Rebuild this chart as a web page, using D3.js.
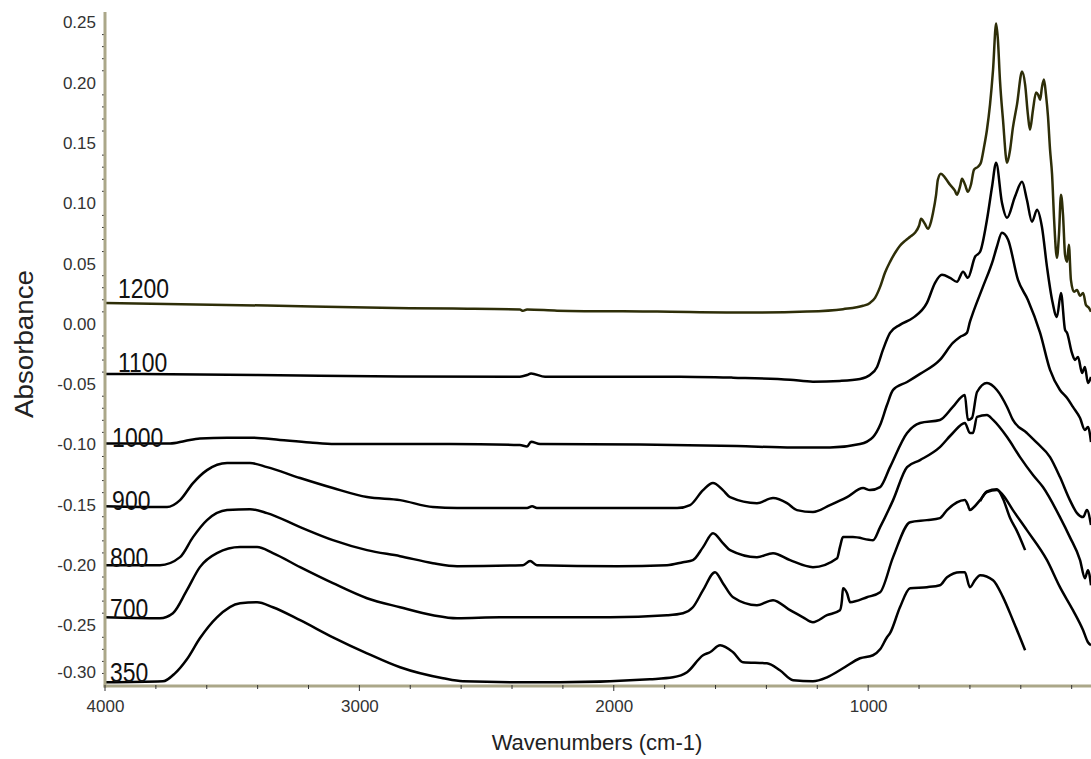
<!DOCTYPE html>
<html>
<head>
<meta charset="utf-8">
<script src="https://cdn.jsdelivr.net/npm/d3@7"></script>
<style>
  body { margin: 0; background: #fff; }
  svg { display: block; }
  text { font-family: "Liberation Sans", Arial, sans-serif; }
</style>
</head>
<body>
<svg id="chart" width="1091" height="759"></svg>
<script>
// FTIR spectra: [wavenumber (cm-1), absorbance], one array per calcination temperature
const s1200 = [[4000,0.0174],[3363,0.0152],[2970,0.0135],[2632,0.0127],[2369,0.0120],[2357,0.0108],[2341,0.0119],[2223,0.0110],[1830,0.0102],[1453,0.0094],[1240,0.0102],[1099,0.0122],[1020,0.0150],[993,0.0174],[973,0.0216],[953,0.0307],[934,0.0424],[914,0.0515],[894,0.0590],[875,0.0648],[855,0.0689],[835,0.0723],[816,0.0756],[800,0.0814],[792,0.0872],[777,0.0831],[765,0.0789],[753,0.0847],[745,0.0922],[733,0.1071],[726,0.1196],[714,0.1246],[698,0.1213],[678,0.1154],[659,0.1105],[651,0.1071],[639,0.1138],[631,0.1204],[619,0.1154],[608,0.1096],[596,0.1154],[584,0.1279],[568,0.1304],[557,0.1337],[545,0.1462],[533,0.1611],[521,0.1819],[509,0.2110],[497,0.2492],[490,0.2359],[482,0.2027],[470,0.1694],[454,0.1337],[442,0.1445],[431,0.1628],[415,0.1819],[395,0.2093],[383,0.1985],[372,0.1736],[364,0.1611],[352,0.1777],[340,0.1919],[332,0.1902],[324,0.1860],[317,0.1960],[309,0.2027],[301,0.1902],[293,0.1719],[285,0.1445],[277,0.1238],[269,0.0864],[258,0.0548],[250,0.0739],[242,0.1071],[234,0.0905],[226,0.0573],[218,0.0515],[211,0.0656],[203,0.0365],[191,0.0266],[179,0.0282],[167,0.0233],[155,0.0257],[144,0.0158],[132,0.0133],[124,0.0100]];

const s1100 = [[4000,-0.0415],[3627,-0.0419],[3233,-0.0428],[2840,-0.0436],[2369,-0.0438],[2341,-0.0424],[2325,-0.0411],[2270,-0.0438],[1740,-0.0438],[1531,-0.0446],[1307,-0.0463],[1217,-0.0479],[1111,-0.0473],[1032,-0.0457],[993,-0.0424],[965,-0.0357],[942,-0.0216],[914,-0.0075],[875,-0.0008],[824,0.0050],[769,0.0174],[737,0.0341],[710,0.0407],[678,0.0382],[651,0.0349],[627,0.0432],[608,0.0382],[580,0.0556],[560,0.0598],[533,0.0864],[513,0.1138],[497,0.1337],[474,0.1005],[454,0.0880],[423,0.1055],[395,0.1179],[376,0.1030],[356,0.0847],[336,0.0947],[317,0.0806],[297,0.0473],[277,0.0199],[258,0.0058],[242,0.0257],[226,-0.0050],[218,-0.0075],[199,-0.0241],[187,-0.0299],[175,-0.0274],[159,-0.0407],[148,-0.0357],[136,-0.0490],[124,-0.0440]];

const s1000 = [[4000,-0.0993],[3744,-0.0993],[3686,-0.0972],[3627,-0.0951],[3520,-0.0944],[3418,-0.0944],[3312,-0.0963],[3194,-0.0984],[3096,-0.0997],[2644,-0.0997],[2369,-0.1005],[2341,-0.1017],[2325,-0.0977],[2290,-0.0997],[1897,-0.1001],[1516,-0.1013],[1295,-0.1026],[1150,-0.1026],[1032,-0.0997],[981,-0.0939],[953,-0.0839],[926,-0.0673],[902,-0.0548],[847,-0.0482],[796,-0.0415],[718,-0.0299],[667,-0.0158],[639,-0.0108],[612,-0.0075],[600,0.0017],[588,0.0091],[549,0.0307],[509,0.0532],[494,0.0640],[474,0.0756],[450,0.0698],[411,0.0365],[372,0.0199],[324,-0.0075],[285,-0.0382],[246,-0.0548],[218,-0.0615],[195,-0.0689],[167,-0.0781],[148,-0.0880],[136,-0.0855],[124,-0.0980]];

const s900 = [[4000,-0.1512],[3756,-0.1520],[3705,-0.1462],[3654,-0.1321],[3599,-0.1213],[3520,-0.1154],[3430,-0.1154],[3363,-0.1188],[3233,-0.1279],[3104,-0.1362],[2970,-0.1437],[2840,-0.1462],[2711,-0.1520],[2616,-0.1528],[2341,-0.1528],[2321,-0.1512],[2302,-0.1528],[1751,-0.1528],[1700,-0.1503],[1649,-0.1379],[1610,-0.1321],[1571,-0.1379],[1543,-0.1437],[1437,-0.1487],[1374,-0.1445],[1319,-0.1487],[1280,-0.1545],[1217,-0.1561],[1150,-0.1503],[1083,-0.1437],[1020,-0.1362],[993,-0.1379],[953,-0.1354],[914,-0.1188],[847,-0.0905],[796,-0.0822],[718,-0.0797],[667,-0.0689],[620,-0.0590],[608,-0.0797],[592,-0.0781],[572,-0.0565],[533,-0.0490],[494,-0.0548],[454,-0.0689],[431,-0.0797],[376,-0.0905],[336,-0.0988],[285,-0.1105],[246,-0.1271],[207,-0.1462],[179,-0.1570],[155,-0.1603],[140,-0.1545],[124,-0.1669]];

const s800 = [[4000,-0.2002],[3784,-0.2002],[3705,-0.1935],[3654,-0.1769],[3599,-0.1628],[3520,-0.1545],[3430,-0.1537],[3363,-0.1570],[3233,-0.1686],[3104,-0.1794],[2970,-0.1877],[2840,-0.1927],[2711,-0.1985],[2616,-0.2010],[2357,-0.2002],[2329,-0.1968],[2302,-0.2002],[1987,-0.2010],[1791,-0.2002],[1728,-0.1977],[1689,-0.1960],[1649,-0.1852],[1610,-0.1736],[1571,-0.1819],[1543,-0.1877],[1437,-0.1935],[1374,-0.1902],[1307,-0.1960],[1217,-0.2018],[1122,-0.1944],[1111,-0.1852],[1099,-0.1769],[1060,-0.1769],[981,-0.1794],[953,-0.1686],[902,-0.1462],[847,-0.1188],[796,-0.1130],[718,-0.1022],[667,-0.0905],[620,-0.0822],[600,-0.0905],[588,-0.0905],[572,-0.0772],[533,-0.0756],[509,-0.0797],[454,-0.0939],[403,-0.1105],[352,-0.1254],[313,-0.1354],[246,-0.1603],[207,-0.1769],[167,-0.1960],[148,-0.2110],[136,-0.2043],[124,-0.2168]];

const s700 = [[4000,-0.2434],[3784,-0.2442],[3733,-0.2400],[3678,-0.2209],[3627,-0.2018],[3560,-0.1902],[3469,-0.1852],[3402,-0.1852],[3340,-0.1902],[3233,-0.2018],[3104,-0.2151],[2970,-0.2276],[2840,-0.2351],[2711,-0.2417],[2616,-0.2442],[2447,-0.2434],[2015,-0.2434],[1791,-0.2417],[1728,-0.2400],[1689,-0.2351],[1649,-0.2209],[1602,-0.2060],[1571,-0.2151],[1531,-0.2268],[1437,-0.2334],[1374,-0.2292],[1307,-0.2375],[1256,-0.2434],[1217,-0.2475],[1162,-0.2417],[1111,-0.2375],[1103,-0.2292],[1099,-0.2193],[1083,-0.2234],[1071,-0.2309],[1005,-0.2268],[953,-0.2226],[902,-0.1935],[835,-0.1645],[769,-0.1628],[718,-0.1611],[690,-0.1545],[620,-0.1462],[608,-0.1503],[600,-0.1545],[588,-0.1528],[560,-0.1462],[533,-0.1395],[494,-0.1379],[470,-0.1420],[431,-0.1545],[376,-0.1711],[297,-0.1960],[246,-0.2184],[195,-0.2375],[155,-0.2542],[136,-0.2641],[124,-0.2666]];

// second 700 scan, recorded only down to 400 cm-1
const s700rep = [[560,-0.1470],[533,-0.1390],[494,-0.1372],[470,-0.1450],[442,-0.1611],[415,-0.1719],[383,-0.1877]];

const s350 = [[4000,-0.2973],[3772,-0.2965],[3725,-0.2899],[3678,-0.2782],[3627,-0.2608],[3560,-0.2434],[3469,-0.2317],[3402,-0.2309],[3340,-0.2351],[3233,-0.2458],[3104,-0.2600],[2970,-0.2733],[2840,-0.2849],[2671,-0.2940],[2593,-0.2965],[2341,-0.2973],[2211,-0.2973],[1858,-0.2948],[1767,-0.2932],[1712,-0.2890],[1649,-0.2749],[1622,-0.2724],[1582,-0.2666],[1531,-0.2724],[1492,-0.2807],[1398,-0.2816],[1347,-0.2874],[1295,-0.2957],[1217,-0.2965],[1162,-0.2932],[1099,-0.2857],[1032,-0.2774],[981,-0.2749],[953,-0.2700],[926,-0.2600],[914,-0.2566],[875,-0.2351],[835,-0.2193],[769,-0.2184],[718,-0.2168],[690,-0.2101],[639,-0.2060],[620,-0.2060],[600,-0.2184],[580,-0.2126],[560,-0.2085],[509,-0.2126],[470,-0.2267],[431,-0.2458],[383,-0.2708]];

// series labels and where each is written (wavenumber, absorbance of text baseline)
const labelText = ["1200", "1100", "1000", "900", "800", "700", "350"];
const labelAt = [[3949,0.0216],[3949,-0.0399],[3972,-0.1022],[3972,-0.1545],[3980,-0.2018],[3980,-0.2442],[3980,-0.2973]];

const xTicks = [4000, 3000, 2000, 1000];
const yTicks = [0.25, 0.20, 0.15, 0.10, 0.05, 0.00, -0.05, -0.10, -0.15, -0.20, -0.25, -0.30];

const series = [
  { data: s1200, color: "#2e2e08" },
  { data: s1100, color: "#000" },
  { data: s1000, color: "#000" },
  { data: s900,  color: "#000" },
  { data: s800,  color: "#000" },
  { data: s700,  color: "#000" },
  { data: s700rep, color: "#000" },
  { data: s350,  color: "#000" }
];

const svg = d3.select("#chart");
const W = 1091, H = 759;
svg.append("rect").attr("width", W).attr("height", H).attr("fill", "#fff");

const x = d3.scaleLinear().domain([4000, 124]).range([105, 1091]);
const y = d3.scaleLinear().domain([-0.30, 0.2585]).range([685.5, 12.3]);

const axisColor = "#aba789";
const fmtY = v => d3.format(".2f")(v).replace("\u2212", "-");

// spectra
const line = d3.line()
  .x(d => x(d[0]))
  .y(d => y(d[1]))
  .curve(d3.curveMonotoneX);

svg.append("g").selectAll("path")
  .data(series)
  .join("path")
  .attr("d", d => line(d.data))
  .attr("fill", "none")
  .attr("stroke", d => d.color)
  .attr("stroke-width", 2.5)
  .attr("stroke-linejoin", "round");

// y axis: minor ticks every 0.01
const yMinor = d3.range(-30, 26).map(v => v / 100).filter(v => Math.abs(Math.round(v * 100) % 5) !== 0);
svg.append("g").selectAll("line")
  .data(yMinor)
  .join("line")
  .attr("x1", 102).attr("x2", 104)
  .attr("y1", d => y(d)).attr("y2", d => y(d))
  .attr("stroke", "#333").attr("stroke-width", 1);

const gy = svg.append("g").attr("transform", "translate(105,0)")
  .call(d3.axisLeft(y).tickValues(yTicks).tickFormat(fmtY).tickSize(6).tickPadding(3));
gy.select(".domain").remove();
gy.selectAll(".tick line").attr("stroke", "#333").attr("x2", -1);
gy.selectAll(".tick text").attr("fill", "#333").style("font-size", "17px");
// the bottom label sits just above the x axis
gy.selectAll(".tick").filter(d => d === -0.30)
  .attr("transform", `translate(0,${y(-0.30) - 13})`);

// x axis: minor ticks every 200
const xMinor = d3.range(3800, 100, -200).filter(v => v % 1000 !== 0);

const gx = svg.append("g").attr("transform", "translate(0,686)")
  .call(d3.axisBottom(x).tickValues(xTicks).tickFormat(d3.format("d")).tickSize(5).tickPadding(9));
gx.select(".domain").remove();
gx.selectAll(".tick line").remove();
gx.selectAll(".tick text").attr("fill", "#333").style("font-size", "17px");

// axis lines
svg.append("line")
  .attr("x1", 105).attr("x2", 105).attr("y1", 12).attr("y2", 687.5)
  .attr("stroke", axisColor).attr("stroke-width", 3);
svg.append("line")
  .attr("x1", 103.5).attr("x2", W).attr("y1", 686).attr("y2", 686)
  .attr("stroke", axisColor).attr("stroke-width", 3);
// x tick marks over the axis line
svg.append("g").selectAll("line")
  .data(xTicks.concat(xMinor))
  .join("line")
  .attr("x1", d => x(d)).attr("x2", d => x(d))
  .attr("y1", 685).attr("y2", d => xTicks.includes(d) ? 691 : 689)
  .attr("stroke", "#333").attr("stroke-width", 1);

// series labels
svg.append("g").selectAll("text")
  .data(labelText)
  .join("text")
  .attr("transform", (d, i) => `translate(${x(labelAt[i][0])},${y(labelAt[i][1])}) scale(0.82,1)`)
  .attr("fill", "#111")
  .style("font-size", "28px")
  .text(d => d);

// axis titles
svg.append("text")
  .attr("x", 597).attr("y", 750)
  .attr("text-anchor", "middle")
  .attr("fill", "#222")
  .style("font-size", "22px")
  .text("Wavenumbers (cm-1)");

svg.append("text")
  .attr("transform", "translate(33,344) rotate(-90)")
  .attr("text-anchor", "middle")
  .attr("fill", "#222")
  .style("font-size", "25px")
  .attr("textLength", 148)
  .attr("lengthAdjust", "spacingAndGlyphs")
  .text("Absorbance");
</script>
</body>
</html>
